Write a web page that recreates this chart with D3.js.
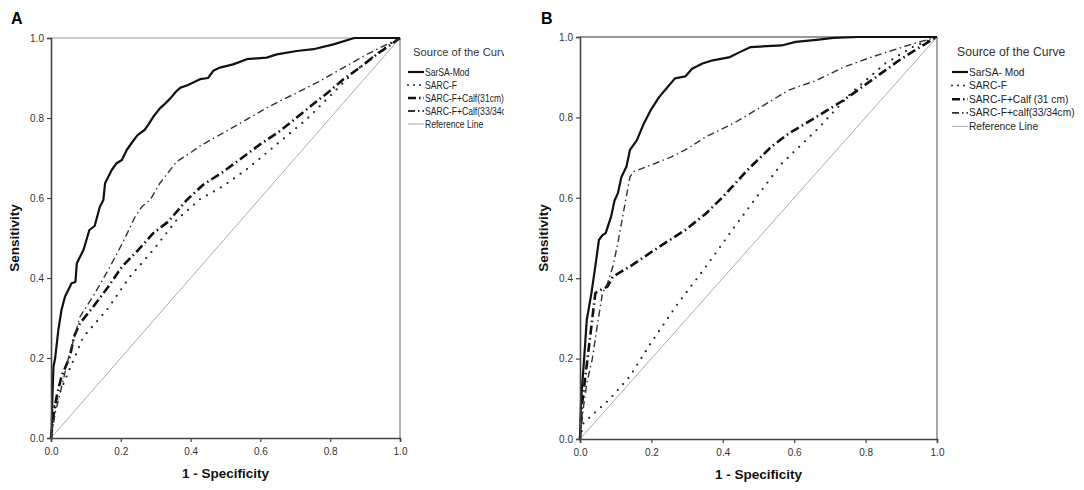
<!DOCTYPE html>
<html><head><meta charset="utf-8">
<script src="https://cdn.jsdelivr.net/npm/d3@7"></script>
<style>
html,body{margin:0;padding:0;background:#fff;}
svg{display:block;font-family:"Liberation Sans",Arial,sans-serif;}
</style>
</head><body>
<svg id="chart" width="1084" height="490"></svg>
<script>
// ---------- DATA ----------
const xTicks = [0, 0.2, 0.4, 0.6, 0.8, 1.0];
const yTicks = [0, 0.2, 0.4, 0.6, 0.8, 1.0];
const tickLabels = ["0.0", "0.2", "0.4", "0.6", "0.8", "1.0"];

// Panel A
const A_sarsaMod = [[0,0],[0.002,0.02],[0.004,0.1],[0.007,0.178],[0.012,0.2],[0.021,0.27],[0.03,0.32],[0.04,0.353],[0.059,0.387],[0.07,0.39],[0.074,0.437],[0.093,0.47],[0.11,0.52],[0.125,0.53],[0.14,0.578],[0.15,0.595],[0.155,0.637],[0.174,0.67],[0.188,0.687],[0.203,0.695],[0.217,0.72],[0.233,0.74],[0.248,0.757],[0.268,0.77],[0.278,0.782],[0.293,0.803],[0.312,0.824],[0.327,0.836],[0.342,0.849],[0.357,0.865],[0.371,0.876],[0.391,0.882],[0.427,0.897],[0.45,0.9],[0.465,0.918],[0.484,0.926],[0.522,0.934],[0.561,0.947],[0.618,0.951],[0.647,0.959],[0.704,0.9675],[0.752,0.972],[0.809,0.984],[0.862,0.998],[0.87,1],[1,1]];
const A_sarcF = [[0,0],[0.01,0.08],[0.04,0.145],[0.093,0.253],[0.16,0.32],[0.226,0.403],[0.293,0.47],[0.36,0.545],[0.427,0.597],[0.494,0.63],[0.561,0.672],[0.618,0.713],[0.675,0.755],[0.733,0.797],[0.78,0.838],[0.828,0.88],[0.866,0.913],[0.914,0.947],[0.962,0.98],[1,1]];
const A_calf31 = [[0,0],[0.007,0.054],[0.016,0.103],[0.03,0.154],[0.054,0.203],[0.066,0.254],[0.083,0.287],[0.121,0.328],[0.164,0.378],[0.203,0.428],[0.25,0.47],[0.293,0.512],[0.336,0.541],[0.389,0.595],[0.436,0.633],[0.494,0.666],[0.542,0.697],[0.599,0.734],[0.656,0.7675],[0.704,0.801],[0.756,0.838],[0.799,0.8675],[0.838,0.897],[0.885,0.926],[0.933,0.959],[0.981,0.988],[1,1]];
const A_calf3334 = [[0,0],[0.012,0.062],[0.026,0.112],[0.05,0.2],[0.083,0.303],[0.126,0.362],[0.169,0.428],[0.207,0.491],[0.241,0.553],[0.26,0.578],[0.284,0.595],[0.312,0.637],[0.36,0.691],[0.398,0.712],[0.427,0.73],[0.494,0.763],[0.57,0.801],[0.628,0.83],[0.704,0.863],[0.771,0.8925],[0.838,0.926],[0.905,0.959],[0.962,0.984],[1,1]];
const A_ref = [[0,0],[1,1]];
const A_names = ["SarSA-Mod","SARC-F","SARC-F+Calf(31cm)","SARC-F+Calf(33/34cm)","Reference Line"];

// Panel B
const B_sarsaMod = [[0,0],[0.003,0.098],[0.01,0.18],[0.019,0.296],[0.032,0.363],[0.043,0.43],[0.053,0.495],[0.063,0.507],[0.072,0.512],[0.087,0.553],[0.097,0.594],[0.106,0.611],[0.116,0.652],[0.13,0.677],[0.14,0.719],[0.159,0.743],[0.179,0.785],[0.198,0.818],[0.222,0.851],[0.242,0.872],[0.266,0.897],[0.295,0.902],[0.314,0.921],[0.343,0.934],[0.372,0.942],[0.42,0.95],[0.449,0.963],[0.478,0.975],[0.565,0.979],[0.604,0.988],[0.662,0.993],[0.71,0.998],[0.778,1],[1,1]];
const B_sarcF = [[0,0],[0.01,0.04],[0.082,0.098],[0.14,0.156],[0.198,0.238],[0.275,0.338],[0.353,0.429],[0.42,0.512],[0.488,0.594],[0.565,0.685],[0.662,0.768],[0.758,0.859],[0.855,0.934],[0.932,0.975],[1,1]];
const B_calf31 = [[0,0],[0.005,0.081],[0.024,0.222],[0.043,0.363],[0.058,0.371],[0.077,0.379],[0.092,0.404],[0.14,0.429],[0.208,0.47],[0.295,0.52],[0.353,0.561],[0.401,0.603],[0.469,0.669],[0.536,0.727],[0.585,0.76],[0.662,0.801],[0.739,0.843],[0.816,0.892],[0.894,0.942],[0.952,0.975],[1,1]];
const B_calf3334 = [[0,0],[0.01,0.081],[0.019,0.139],[0.034,0.197],[0.048,0.28],[0.063,0.363],[0.077,0.387],[0.092,0.429],[0.106,0.487],[0.121,0.561],[0.14,0.652],[0.15,0.665],[0.198,0.681],[0.256,0.702],[0.295,0.719],[0.353,0.752],[0.43,0.785],[0.507,0.826],[0.585,0.868],[0.662,0.892],[0.739,0.925],[0.816,0.95],[0.932,0.983],[1,1]];
const B_ref = [[0,0],[1,1]];
const B_names = ["SarSA- Mod","SARC-F","SARC-F+Calf (31 cm)","SARC-F+calf(33/34cm)","Reference Line"];

// ---------- STYLES ----------
const styles = [
  {stroke:"#111", width:2.2, dash:null, cap:"butt", ldash:null},
  {stroke:"#222", width:2.2, dash:"0 8", cap:"round", ldash:"0 6"},
  {stroke:"#111", width:2.6, dash:"9 3.5 1.5 3.5", cap:"butt", ldash:"8 3 1.5 3"},
  {stroke:"#333", width:1.4, dash:"7 3.5 1.5 3.5", cap:"butt", ldash:"7 3 1.5 3"},
  {stroke:"#aaa", width:1, dash:null, cap:"butt", ldash:null}
];

const svg = d3.select("#chart");
const defs = svg.append("defs");

function panel(cfg){
  const {id,left,right,top,bottom,letter,letterX,series,names,lg} = cfg;
  const x = d3.scaleLinear().domain([0,1]).range([left,right]);
  const y = d3.scaleLinear().domain([0,1]).range([bottom,top]);
  const g = svg.append("g");

  defs.append("clipPath").attr("id","clip"+id).append("rect")
    .attr("x",left-2).attr("y",top-2).attr("width",right-left+4).attr("height",bottom-top+4);
  defs.append("clipPath").attr("id","lclip"+id).append("rect")
    .attr("x",right+1).attr("y",0).attr("width",lg.clipRight-right-1).attr("height",490);

  // frame top/right
  g.append("line").attr("x1",left).attr("x2",right).attr("y1",top).attr("y2",top)
    .attr("stroke",cfg.topColor).attr("stroke-width",1.3);
  g.append("line").attr("x1",right).attr("x2",right).attr("y1",top).attr("y2",bottom)
    .attr("stroke",cfg.rightColor).attr("stroke-width",1.3);

  // curves
  const line = d3.line().x(d=>x(d[0])).y(d=>y(d[1]));
  const cg = g.append("g").attr("clip-path","url(#clip"+id+")");
  [4,1,2,3,0].forEach(i=>{
    const s = styles[i];
    cg.append("path").datum(series[i]).attr("d",line)
      .attr("fill","none").attr("stroke",s.stroke).attr("stroke-width",s.width)
      .attr("stroke-dasharray",s.dash).attr("stroke-linecap",s.cap).attr("stroke-linejoin","round");
  });

  // axes
  const fmt = (d,i)=>tickLabels[i];
  const xa = g.append("g").attr("transform",`translate(0,${bottom})`)
    .call(d3.axisBottom(x).tickValues(xTicks).tickSize(4).tickFormat(fmt));
  const ya = g.append("g").attr("transform",`translate(${left},0)`)
    .call(d3.axisLeft(y).tickValues(yTicks).tickSize(4).tickFormat(fmt));
  [xa,ya].forEach(a=>{
    a.select(".domain").attr("stroke","#444").attr("stroke-width",1.6);
    a.selectAll(".tick line").attr("stroke","#444").attr("stroke-width",1.2);
    a.selectAll(".tick text").attr("fill","#333").attr("font-size",10)
      .attr("font-family","Liberation Sans, Arial, sans-serif");
  });
  xa.selectAll(".tick text").attr("dy","0.95em");

  // axis titles
  g.append("text").attr("x",(left+right)/2).attr("y",bottom+40)
    .attr("text-anchor","middle").attr("font-weight","bold").attr("font-size",13.5).attr("fill","#111")
    .text("1 - Specificity");
  g.append("text").attr("transform",`translate(${left-32},${(top+bottom)/2}) rotate(-90)`)
    .attr("text-anchor","middle").attr("font-weight","bold").attr("font-size",13.5).attr("fill","#111")
    .text("Sensitivity");

  // panel letter
  g.append("text").attr("x",letterX).attr("y",24).attr("font-weight","bold").attr("font-size",16)
    .attr("fill","#000").text(letter);

  // legend
  const L = g.append("g").attr("clip-path","url(#lclip"+id+")");
  L.append("text").attr("x",lg.titleX).attr("y",lg.titleY).attr("font-size",lg.titleSize).attr("fill","#333")
    .text("Source of the Curve");
  names.forEach((n,i)=>{
    const yy = lg.y0 + i*lg.step;
    const s = styles[i];
    L.append("line").attr("x1",lg.lineX).attr("x2",lg.lineX+16).attr("y1",yy).attr("y2",yy)
      .attr("stroke",s.stroke).attr("stroke-width",i===3?1.8:(i===1?2:s.width))
      .attr("stroke-dasharray",s.ldash).attr("stroke-linecap",s.cap);
    L.append("text").attr("transform",`translate(${lg.lineX+17},${yy+3.6}) scale(${lg.sx},1)`)
      .attr("font-size",lg.size).attr("fill","#222").text(n);
  });
}

panel({id:"A",left:51,right:400,top:38,bottom:438,letter:"A",letterX:11,
  series:[A_sarsaMod,A_sarcF,A_calf31,A_calf3334,A_ref],names:A_names,
  topColor:"#bbb",rightColor:"#888",
  lg:{titleX:413,titleY:56,titleSize:11.2,lineX:408,y0:72,step:13,size:10,sx:0.86,clipRight:504}});
panel({id:"B",left:580,right:937,top:37,bottom:439,letter:"B",letterX:541,
  series:[B_sarsaMod,B_sarcF,B_calf31,B_calf3334,B_ref],names:B_names,
  topColor:"#777",rightColor:"#777",
  lg:{titleX:957,titleY:56,titleSize:12.2,lineX:952,y0:72,step:13.6,size:10.2,sx:1,clipRight:1084}});
</script>
</body></html>
